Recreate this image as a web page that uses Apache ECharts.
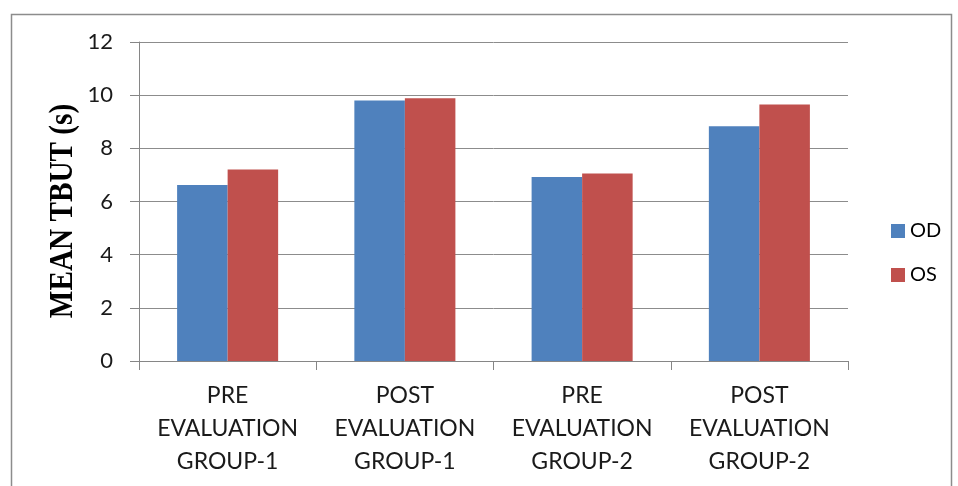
<!DOCTYPE html>
<html><head><meta charset="utf-8">
<script src="https://cdn.jsdelivr.net/npm/echarts@6/dist/echarts.min.js"></script>
<style>html,body{margin:0;padding:0;background:#fff}#c{width:958px;height:486px}</style>
</head><body><div id="c"></div>
<script>
var categories = ["PRE\nEVALUATION\nGROUP-1", "POST\nEVALUATION\nGROUP-1", "PRE\nEVALUATION\nGROUP-2", "POST\nEVALUATION\nGROUP-2"];
var seriesNames = ["OD", "OS"];
var odValues = [6.62, 9.8, 6.92, 8.83];
var osValues = [7.2, 9.88, 7.05, 9.65];
var yTicks = [0, 2, 4, 6, 8, 10, 12];
var yTitle = "MEAN TBUT (s)";

var chart = echarts.init(document.getElementById('c'));
var fontFam = 'Lato, "Open Sans", sans-serif';
chart.setOption({
  animation: false,
  graphic: [{
    type: 'rect', left: 9, top: 12, silent: true,
    shape: { width: 940, height: 490 },
    style: { fill: 'none', stroke: '#8c8c8c', lineWidth: 1.5 }
  }, {
    type: 'text', x: 63, y: 211, rotation: Math.PI / 2, scaleX: 0.86, silent: true,
    style: {
      text: yTitle, align: 'center', verticalAlign: 'middle',
      font: 'bold 34px "Liberation Serif", "Times New Roman", serif', fill: '#000'
    }
  }],
  grid: { left: 139, right: 110, top: 42, bottom: 125 },
  legend: {
    orient: 'vertical', left: 886, top: 216, itemGap: 24,
    itemWidth: 14, itemHeight: 14, icon: 'rect', itemStyle: { borderWidth: 0 },
    textStyle: { fontFamily: fontFam, fontSize: 20, color: '#000' },
    data: seriesNames
  },
  xAxis: {
    type: 'category', data: categories,
    axisLine: { lineStyle: { color: '#868686', width: 1 } },
    axisTick: { show: true, length: 9, lineStyle: { color: '#868686' } },
    axisLabel: { fontFamily: fontFam, fontSize: 23, color: '#1a1a1a', lineHeight: 33, margin: 18, interval: 0 }
  },
  yAxis: {
    type: 'value', min: 0, max: 12, interval: 2,
    axisLine: { show: true, lineStyle: { color: '#868686', width: 1 } },
    axisTick: { show: true, length: 9, lineStyle: { color: '#868686' } },
    axisLabel: { fontFamily: fontFam, fontSize: 22, color: '#1a1a1a', margin: 26,
      formatter: function (v) { return yTicks.indexOf(v) >= 0 ? String(v) : ''; } },
    splitLine: { lineStyle: { color: '#8c8c8c', width: 1 } }
  },
  series: [
    { name: seriesNames[0], type: 'bar', data: odValues, barGap: '0%', barCategoryGap: '43%',
      itemStyle: { color: '#4f81bd' } },
    { name: seriesNames[1], type: 'bar', data: osValues,
      itemStyle: { color: '#c0504d' } }
  ]
});
</script></body></html>
